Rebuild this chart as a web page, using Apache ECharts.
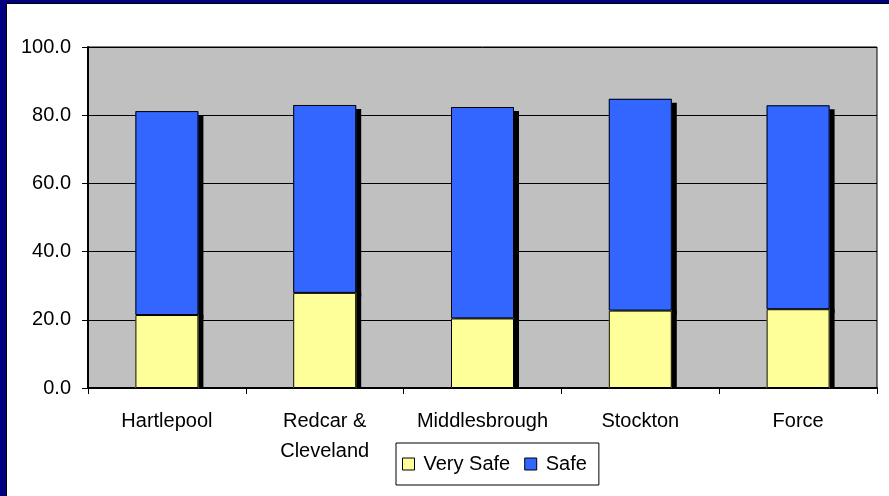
<!DOCTYPE html>
<head>
    <meta charset="utf-8">
    <title>ECharts</title>
    <style>
        body { margin: 0; background: #000080; }
        #frame { position: absolute; left: 6px; top: 3px; width: 900px; height: 520px; background: #fff; border-left: 1px solid #000; border-top: 1px solid #000; }
        #main { position: absolute; left: 0; top: 0; width: 889px; height: 496px; }
    </style>
</head>
<body>
<div id="frame"></div>
<div id="main"></div>
<script src="https://cdn.jsdelivr.net/npm/echarts@6/dist/echarts.min.js"></script>
<script type="text/javascript">
    // 数据
    var categories = ['Hartlepool', 'Redcar &\nCleveland', 'Middlesbrough', 'Stockton', 'Force'];
    var verySafe = [21.4, 27.9, 20.4, 22.7, 23.1];
    var safe = [59.8, 55.1, 62.0, 62.1, 59.8];
    var yTicks = [0, 20, 40, 60, 80, 100];

    var font = "'Liberation Sans', Arial, sans-serif";
    var myChart = echarts.init(document.getElementById('main'));

    // 填充+阴影（无边框），再叠一层只有黑边框的柱子
    function fillBar(name, data, color, z, offY) {
        return {
            name: name, type: 'bar', stack: 'fill', z: z,
            barWidth: 63, barGap: '-100%', data: data,
            itemStyle: {
                color: color, borderWidth: 0,
                shadowColor: '#000', shadowBlur: 0, shadowOffsetX: 5, shadowOffsetY: offY
            }
        };
    }
    function outlineBar(name, data) {
        return {
            name: name, type: 'bar', stack: 'outline', z: 4,
            barWidth: 63, barGap: '-100%', data: data, silent: true,
            itemStyle: { color: 'rgba(0,0,0,0)', borderColor: '#000', borderWidth: 1 }
        };
    }

    myChart.setOption({
        animation: false,
        textStyle: { fontFamily: font, color: '#000' },
        legend: {
            data: ['Very Safe', 'Safe'],
            left: 396,
            top: 443,
            padding: [11, 12, 11, 6],
            borderColor: '#000',
            borderWidth: 1,
            backgroundColor: '#fff',
            itemWidth: 12,
            itemHeight: 12,
            itemGap: 14,
            icon: 'rect',
            itemStyle: { borderColor: '#000', borderWidth: 1, shadowBlur: 0, shadowOffsetX: 0, shadowOffsetY: 0, shadowColor: 'transparent' },
            textStyle: { fontFamily: font, fontSize: 20, color: '#000', padding: [0, 0, 0, 4] }
        },
        grid: {
            left: 88, top: 47, right: 12, bottom: 108,
            show: true,
            backgroundColor: '#c0c0c0',
            borderColor: '#000',
            borderWidth: 1
        },
        xAxis: {
            type: 'category',
            data: categories,
            axisLine: { lineStyle: { color: '#000', width: 2 } },
            axisTick: { show: true, length: 6, lineStyle: { color: '#000' } },
            axisLabel: { margin: 18, fontSize: 20, lineHeight: 30, color: '#000', fontFamily: font, interval: 0 }
        },
        yAxis: {
            type: 'value',
            min: yTicks[0],
            max: yTicks[yTicks.length - 1],
            interval: 20,
            axisLine: { show: true, lineStyle: { color: '#000', width: 2 } },
            axisTick: { show: true, length: 6, lineStyle: { color: '#000' } },
            axisLabel: {
                margin: 17, fontSize: 20, color: '#000', fontFamily: font,
                formatter: function (v) { return v.toFixed(1); }
            },
            splitLine: { lineStyle: { color: '#000', width: 1 } }
        },
        series: [
            fillBar('Very Safe', verySafe, '#ffff99', 3, 0),
            fillBar('Safe', safe, '#3366ff', 2, 4),
            outlineBar('Very Safe outline', verySafe),
            outlineBar('Safe outline', safe)
        ]
    });
</script>
</body>
